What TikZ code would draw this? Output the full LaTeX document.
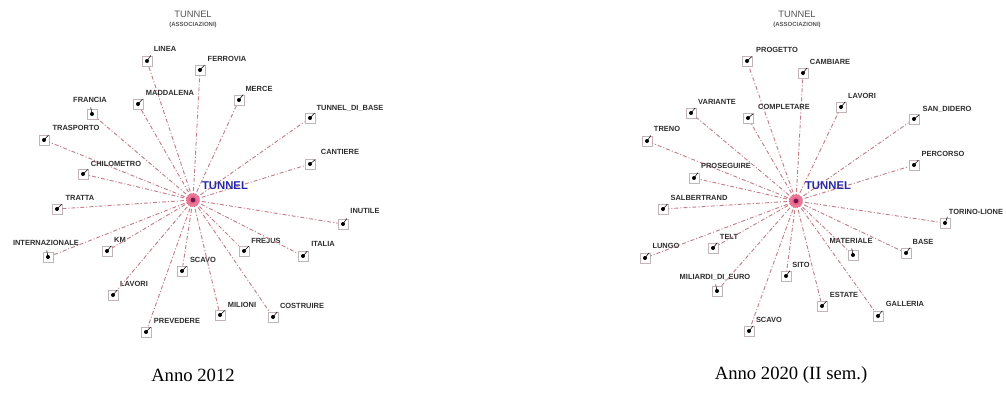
\documentclass[tikz,border=0pt]{standalone}
\usepackage{fontspec}
\setmainfont{Liberation Serif}
\newfontfamily\arialf{Liberation Sans}
\usetikzlibrary{calc}
\definecolor{edgec}{RGB}{195,125,135}
\definecolor{termc}{RGB}{45,45,45}
\definecolor{hubt}{RGB}{40,40,165}
\definecolor{boxc}{RGB}{195,180,185}
\definecolor{hubp}{RGB}{235,95,135}
\definecolor{hubd}{RGB}{110,20,80}
\definecolor{titc}{RGB}{85,85,85}
\begin{document}
\begin{tikzpicture}[x=0.75pt,y=-0.75pt,
  term/.style={draw=boxc, line width=0.5pt, fill=white, minimum size=7.5pt, inner sep=0pt,
    path picture={\fill[black] (path picture bounding box.center) circle (1.5pt);}},
  lbl/.style={font=\arialf\bfseries\fontsize{5.6}{6}\selectfont, text=termc, inner sep=0.5pt},
  edge/.style={draw=edgec, line width=0.7pt, dash pattern=on 3pt off 1.5pt on 0.8pt off 1.5pt},
  tick/.style={draw=black, line width=0.4pt},
  hub/.style={circle, fill=hubp, fill opacity=0.85, minimum size=10pt, inner sep=0pt},
  hubcore/.style={circle, fill=hubd, minimum size=3.5pt, inner sep=0pt},
  hublbl/.style={font=\arialf\bfseries\fontsize{8.5}{10}\selectfont, text=hubt, inner sep=0pt},
  tit/.style={font=\arialf\fontsize{7}{8}\selectfont, text=titc, inner sep=0pt},
  subtit/.style={font=\arialf\bfseries\fontsize{4.5}{5}\selectfont, text=titc, inner sep=0pt},
  captxt/.style={font=\fontsize{14}{16}\selectfont, inner sep=0pt}
]
\useasboundingbox (0,0) rectangle (1006,407);

% ---------- left panel ----------
\node[tit] (t1) at (193,14) {TUNNEL};
\node[subtit] (s1) at (193,25) {(ASSOCIAZIONI)};
\coordinate (c1) at (193,200);
\foreach \n/\bx/\by/\lx/\ly/\t/\a in {
  1/147/61/165/49/LINEA/south west,
  2/200/70/227/59/FERROVIA/south west,
  3/138/104/170/93/MADDALENA/south west,
  4/239/100/259/89/MERCE/south west,
  5/92/114/90/100/FRANCIA/south,
  6/44/140/76/128/TRASPORTO/south west,
  7/310/118/350/108/TUNNEL\_DI\_BASE/south west,
  8/310/164/340/152/CANTIERE/south west,
  9/83/174/116/164/CHILOMETRO/south west,
  10/57/209/80/198/TRATTA/south west,
  11/48/257/46/243/INTERNAZIONALE/south,
  12/107/251/120/240/KM/south west,
  13/113/295/134/284/LAVORI/south west,
  14/182/271/203/260/SCAVO/south west,
  15/146/332/177/321/PREVEDERE/south west,
  16/220/315/242/305/MILIONI/south west,
  17/273/317/302/306/COSTRUIRE/south west,
  18/244/251/266/241/FREJUS/south west,
  19/303/256/323/244/ITALIA/south west,
  20/343/224/365/211/INUTILE/south west}{
  \node[term] (a\n) at (\bx,\by) {};
  \node[lbl] (la\n) at (\lx,\ly) {\t};
  \draw[edge] (c1) -- (a\n);
  \draw[tick] (a\n.center) -- ($(a\n.center)!5pt!(la\n.\a)$);
}
\node[hub] (h1) at (c1) {};
\node[hubcore] (k1) at (c1) {};
\node[hublbl] (n1) at (225,186) {TUNNEL};

% ---------- right panel ----------
\node[tit] (t2) at (797,14) {TUNNEL};
\node[subtit] (s2) at (797,25) {(ASSOCIAZIONI)};
\coordinate (c2) at (796,201);
\foreach \n/\bx/\by/\lx/\ly/\t/\a in {
  1/747/61/777/50/PROGETTO/south west,
  2/803/73/830/62/CAMBIARE/south west,
  3/691/113/717/102/VARIANTE/south west,
  4/748/118/784/107/COMPLETARE/south west,
  5/841/107/862/96/LAVORI/south west,
  6/914/119/947/109/SAN\_DIDERO/south west,
  7/647/141/667/129/TRENO/south west,
  8/914/165/943/154/PERCORSO/south west,
  9/694/178/726/166/PROSEGUIRE/south west,
  10/663/209/699/198/SALBERTRAND/south west,
  11/945/223/976/212/TORINO-LIONE/south west,
  12/645/258/666/246/LUNGO/south west,
  13/713/248/729/237/TELT/south west,
  14/717/291/715/277/MILIARDI\_DI\_EURO/south,
  15/786/276/801/265/SITO/south west,
  16/749/331/769/320/SCAVO/south west,
  17/853/255/851/241/MATERIALE/south,
  18/906/253/923/242/BASE/south west,
  19/822/306/844/295/ESTATE/south west,
  20/878/316/905/304/GALLERIA/south west}{
  \node[term] (b\n) at (\bx,\by) {};
  \node[lbl] (lb\n) at (\lx,\ly) {\t};
  \draw[edge] (c2) -- (b\n);
  \draw[tick] (b\n.center) -- ($(b\n.center)!5pt!(lb\n.\a)$);
}
\node[hub] (h2) at (c2) {};
\node[hubcore] (k2) at (c2) {};
\node[hublbl] (n2) at (828,186) {TUNNEL};

% ---------- captions ----------
\node[captxt] (cap1) at (193,375) {Anno 2012};
\node[captxt] (cap2) at (791,375) {Anno 2020 (II sem.)};
\end{tikzpicture}
\end{document}
